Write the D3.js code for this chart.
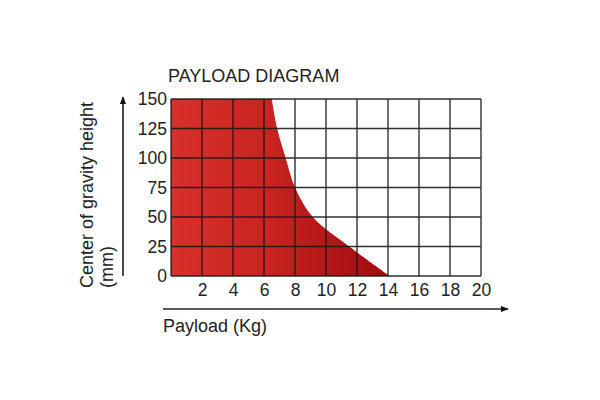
<!DOCTYPE html>
<html><head><meta charset="utf-8">
<script src="https://cdn.jsdelivr.net/npm/d3@7"></script>
<style>body{margin:0;background:#fff}svg{display:block}text{font-family:"Liberation Sans",Arial,sans-serif;fill:#222}</style>
</head><body>
<script>
const heights = [0, 25, 50, 75, 100, 125, 150];
const payloads = [14.1, 11.5, 9.15, 8.0, 7.4, 6.85, 6.5];
const xTicks = [2, 4, 6, 8, 10, 12, 14, 16, 18, 20];
const yTicks = [0, 25, 50, 75, 100, 125, 150];

const W = 600, H = 400;
const m = {left: 171, right: 481, top: 99, bottom: 276};
const svg = d3.select("body").append("svg").attr("width", W).attr("height", H);
const x = d3.scaleLinear().domain([0, 20]).range([m.left, m.right]);
const y = d3.scaleLinear().domain([0, 150]).range([m.bottom, m.top]);

const defs = svg.append("defs");
const g = defs.append("linearGradient").attr("id", "rg").attr("gradientUnits", "userSpaceOnUse")
  .attr("x1", x(0)).attr("x2", x(14)).attr("y1", 0).attr("y2", 0);
g.append("stop").attr("offset", 0).attr("stop-color", "#d8302a");
g.append("stop").attr("offset", 0.45).attr("stop-color", "#c82420");
g.append("stop").attr("offset", 1).attr("stop-color", "#9e0c10");
const mk = defs.append("marker").attr("id", "ah").attr("viewBox", "0 0 10 10").attr("refX", 9).attr("refY", 5)
  .attr("markerWidth", 8).attr("markerHeight", 8).attr("markerUnits", "userSpaceOnUse").attr("orient", "auto");
mk.append("path").attr("d", "M0,1 L10,5 L0,9 Z").attr("fill", "#111");

const data = heights.map((h, i) => ({h, p: payloads[i]}));
const area = d3.area().curve(d3.curveCatmullRom.alpha(0.5))
  .y(d => y(d.h)).x0(x(0)).x1(d => x(d.p));
svg.append("path").datum(data).attr("d", area).attr("fill", "url(#rg)");

// grid
const grid = svg.append("g").attr("stroke", "#1a1a1a").attr("stroke-width", 1.4).attr("opacity", 0.9);
d3.range(0, 21, 2).forEach(v => grid.append("line").attr("x1", x(v)).attr("x2", x(v)).attr("y1", y(0)).attr("y2", y(150)));
yTicks.forEach(v => grid.append("line").attr("x1", x(0)).attr("x2", x(20)).attr("y1", y(v)).attr("y2", y(v)));

const FF = "Liberation Sans, Arial, sans-serif";
const xa = svg.append("g").attr("transform", `translate(0,${m.bottom})`)
  .call(d3.axisBottom(x).tickValues(xTicks).tickSize(0).tickPadding(8));
xa.select(".domain").remove();
xa.selectAll("text").style("font-size", "17.5px").style("font-family", FF).attr("fill", "#222");
const ya = svg.append("g").attr("transform", `translate(${m.left},0)`)
  .call(d3.axisLeft(y).tickValues(yTicks).tickSize(0).tickPadding(4));
ya.select(".domain").remove();
ya.selectAll("text").style("font-size", "17.5px").style("font-family", FF).attr("fill", "#222");

// arrows
svg.append("line").attr("x1", 123).attr("x2", 123).attr("y1", 276).attr("y2", 97)
  .attr("stroke", "#111").attr("stroke-width", 1.5).attr("marker-end", "url(#ah)");
svg.append("line").attr("x1", 163).attr("x2", 508).attr("y1", 309).attr("y2", 309)
  .attr("stroke", "#222").attr("stroke-width", 1.5).attr("marker-end", "url(#ah)");

svg.append("text").attr("x", 168).attr("y", 82).style("font-size", "18px").text("PAYLOAD DIAGRAM");
svg.append("text").attr("x", 163).attr("y", 332).style("font-size", "18px").text("Payload (Kg)");
svg.append("text").attr("transform", "translate(93,288) rotate(-90)").style("font-size", "18px").text("Center of gravity height");
svg.append("text").attr("transform", "translate(113,288) rotate(-90)").style("font-size", "18px").text("(mm)");
</script>
</body></html>
